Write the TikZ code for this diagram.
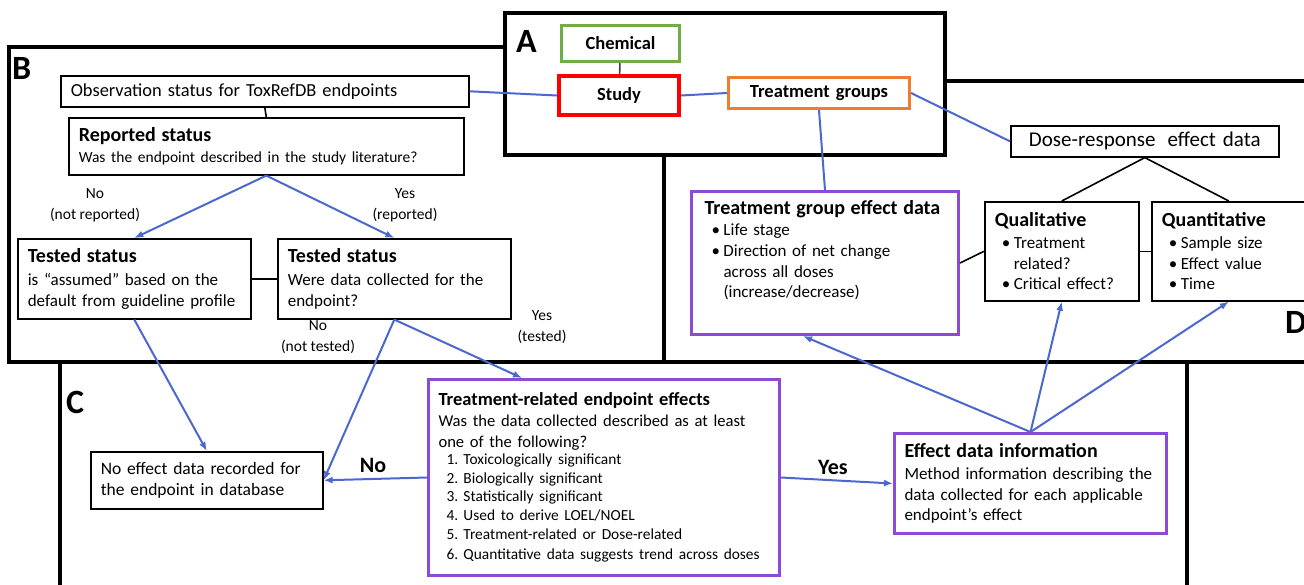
\documentclass[tikz,border=0pt]{standalone}
\usepackage{fontspec}
\setmainfont{Carlito}
\usetikzlibrary{arrows.meta,positioning,calc}
\usepackage{xcolor}
\definecolor{lnk}{RGB}{74,104,206}
\definecolor{purp}{RGB}{140,74,214}
\definecolor{grn}{RGB}{112,173,71}
\definecolor{orng}{RGB}{237,125,49}
\newcommand{\ttl}[1]{{\fontsize{20}{24}\selectfont\bfseries #1}}
\newcommand{\bul}{\hspace*{7pt}\makebox[12pt][l]{\textbullet}}
\newcommand{\bulc}{\hspace*{19pt}}
\newcommand{\num}[1]{\hspace*{8pt}\makebox[17pt][l]{#1.}}

\begin{document}
\begin{tikzpicture}[x=1pt, y=-1pt,
  panel/.style={draw, line width=4pt, fill=white},
  tag/.style={font=\fontsize{34}{34}\selectfont\bfseries, inner sep=0pt},
  box/.style={draw, line width=1.6pt, rectangle, anchor=north west, align=left, inner xsep=10pt, inner ysep=0pt, fill=white, font=\fontsize{17}{20.7}\selectfont},
  ebox/.style={box, draw=purp, line width=3pt},
  abox/.style={box, line width=3pt, align=center, font=\fontsize{18.5}{22}\selectfont\bfseries},
  lbl/.style={align=center, inner sep=0pt, font=\fontsize{15.5}{21}\selectfont},
  blbl/.style={inner sep=0pt, font=\fontsize{22}{24}\selectfont\bfseries},
  link/.style={draw=lnk, line width=2pt},
  arr/.style={link, -{Latex[length=9pt,width=7pt]}},
  wire/.style={draw, line width=1.6pt}
]
\clip (0,0) rectangle (1304,584);
\fill[white] (0,0) rectangle (1304,584);

% panels
\draw[panel] (9,47) rectangle (664,362);
\draw[panel] (664,81) rectangle (1320,362);
\draw[panel] (505,13) rectangle (945,155);
\draw[panel] (60,362) rectangle (1187,600);
\node[tag, anchor=west] (tagA) at (516,41) {A};
\node[tag, anchor=west] (tagB) at (12,68) {B};
\node[tag, anchor=west] (tagC) at (66,402) {C};
\node[tag, anchor=west] (tagD) at (1285,322) {D};

% A
\node[abox, draw=grn, text width=98, minimum height=36] (chem) at (560,24) {Chemical};
\node[abox, draw=red, line width=4pt, text width=100, minimum height=39] (study) at (557,74) {Study};
\node[abox, draw=orng, text width=161, minimum height=31] (tgroups) at (727,76) {Treatment groups};

% B
\node[box, text width=388, minimum height=31, font=\fontsize{18.4}{22}\selectfont] (obs) at (60,75) {Observation status for ToxRefDB endpoints};
\node[box, text width=375, minimum height=57] (rep) at (68,117) {\ttl{Reported status}\\{\fontsize{15.5}{20}\selectfont Was the endpoint described in the study literature?}};
\node[box, text width=213, minimum height=80] (tsL) at (17,238) {\ttl{Tested status}\\[2pt]is ``assumed'' based on the\\default from guideline profile};
\node[box, text width=213, minimum height=80] (tsR) at (277,238) {\ttl{Tested status}\\[2pt]Were data collected for the\\endpoint?};
\node[lbl] (noRep) at (95,205) {No\\(not reported)};
\node[lbl] (yesRep) at (405,205) {Yes\\(reported)};
\node[lbl] (noTst) at (318,337) {No\\(not tested)};
\node[lbl] (yesTst) at (542,327) {Yes\\(tested)};

% C
\node[box, text width=212, minimum height=57, font=\fontsize{17.5}{21}\selectfont] (noeff) at (90,451) {No effect data recorded for\\the endpoint in database};
\node[ebox, text width=331, minimum height=196] (trel) at (427,378) {{\fontsize{18.5}{22}\selectfont\bfseries Treatment-related endpoint effects}\\[1pt]
{\fontsize{16.6}{20}\selectfont Was the data collected described as at least\\one of the following?}\\[-1pt]
{\fontsize{15.4}{18.6}\selectfont\num{1}Toxicologically significant\\\num{2}Biologically significant\\\num{3}Statistically significant\\\num{4}Used to derive LOEL/NOEL\\\num{5}Treatment-related or Dose-related\\\num{6}Quantitative data suggests trend across doses}};
\node[ebox, text width=252, minimum height=100] (effinfo) at (893,432) {\ttl{Effect data information}\\[1pt]Method information describing the\\data collected for each applicable\\endpoint's effect};
\node[blbl] (noC) at (373,465) {No};
\node[blbl] (yesC) at (833,467) {Yes};

% D
\node[ebox, inner xsep=13pt, text width=241, minimum height=143] (grpeff) at (690,190) {\parbox[c][126pt][t]{241pt}{\raggedright\ttl{Treatment group effect data}\\[1pt]\bul Life stage\\\bul Direction of net change\\\bulc across all doses\\\bulc (increase/decrease)}};
\node[box, align=center, text width=248, minimum height=31, font=\fontsize{21}{24}\selectfont] (dose) at (1010,125) {Dose-response\hspace{5pt} effect data};
\node[box, text width=134, minimum height=99] (qual) at (984,201) {\ttl{Qualitative}\\[1pt]\bul Treatment\\\bulc related?\\\bul Critical effect?};
\node[box, text width=134, minimum height=99] (quant) at (1151,201) {\ttl{Quantitative}\\[1pt]\bul Sample size\\\bul Effect value\\\bul Time};

% connectors
\draw[wire, black!75] (chem) -- (study);
\draw[link] (obs.east) -- (study.west);
\draw[link] (study.east) -- (tgroups.west);
\draw[link] (tgroups.east) -- (dose.west);
\draw[link] (tgroups.south) -- (grpeff.north);
\draw[wire] (obs.south) -- (rep.north);
\draw[wire] (tsL.east) -- (tsR.west);
\draw[wire] (dose.south) -- (qual.north);
\draw[wire] (dose.south) -- (quant.north);
\draw[wire] (qual.east) -- (quant.west);
\draw[wire] (grpeff.east) -- (qual.west);
\draw[arr] (rep.south) -- (tsL.north);
\draw[arr] (rep.south) -- (tsR.north);
\draw[arr] (tsL.south) -- (noeff.north);
\draw[arr] (tsR.south) -- (noeff.east);
\draw[arr] (tsR.south) -- ([xshift=-82pt]trel.north);
\draw[arr] (trel.west) -- (noeff.east);
\draw[arr] (trel.east) -- (effinfo.west);
\draw[arr] (effinfo.north) -- ([xshift=-22pt]grpeff.south);
\draw[arr] (effinfo.north) -- (qual.south);
\draw[arr] (effinfo.north) -- (quant.south);
\end{tikzpicture}
\end{document}
